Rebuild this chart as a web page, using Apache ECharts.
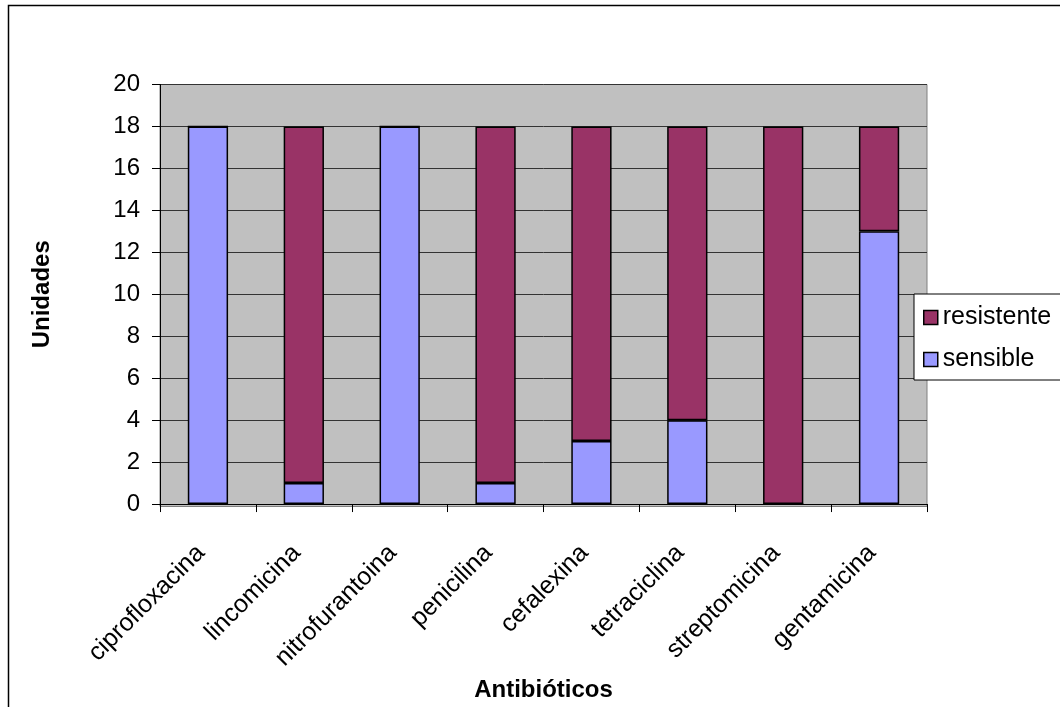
<!DOCTYPE html>
<html>
<head>
<meta charset="utf-8">
<script src="https://cdn.jsdelivr.net/npm/echarts@6/dist/echarts.min.js"></script>
<style>html,body{margin:0;padding:0;background:#fff}#c{width:1060px;height:707px}</style>
</head>
<body>
<div id="c"></div>
<script>
const categories = ['ciprofloxacina','lincomicina','nitrofurantoina','penicilina','cefalexina','tetraciclina','streptomicina','gentamicina'];
const sensible = [18, 1, 18, 1, 3, 4, 0, 13];
const resistente = [0, 17, 0, 17, 15, 14, 18, 5];
const yTicks = [0, 2, 4, 6, 8, 10, 12, 14, 16, 18, 20];

const FONT = 'Liberation Sans, Arial, sans-serif';
const chart = echarts.init(document.getElementById('c'), null, {renderer: 'canvas'});
chart.setOption({
  animation: false,
  backgroundColor: '#ffffff',
  graphic: [
    {type: 'rect', shape: {x: 8.5, y: 5.5, width: 1200, height: 1000}, style: {fill: 'none', stroke: '#000', lineWidth: 1.5}, z: -10},
    {type: 'rect', shape: {x: 160, y: 84.5, width: 767, height: 422}, style: {fill: '#c0c0c0', stroke: '#808080', lineWidth: 1}, z: -5, silent: true}
  ],
  grid: {left: 160, right: 133, top: 84.5, bottom: 200, containLabel: false},
  legend: {
    orient: 'vertical',
    left: 914, top: 294,
    width: 200,
    padding: [11, 40, 8, 9],
    itemGap: 17,
    itemWidth: 14, itemHeight: 14,
    backgroundColor: '#fff',
    borderColor: '#000', borderWidth: 1,
    borderRadius: 0,
    icon: 'rect',
    textStyle: {fontFamily: FONT, fontSize: 25, lineHeight: 24, color: '#000', padding: [0, 0, 0, 0]},
    data: [
      {name: 'resistente', itemStyle: {borderColor: '#000', borderWidth: 1.5}},
      {name: 'sensible', itemStyle: {borderColor: '#000', borderWidth: 1.5}}
    ]
  },
  xAxis: {
    type: 'category',
    data: categories,
    name: 'Antibióticos',
    nameLocation: 'middle',
    nameGap: 170,
    nameTextStyle: {fontFamily: FONT, fontSize: 24, fontWeight: 'bold', color: '#000'},
    axisLine: {lineStyle: {color: '#000', width: 1}},
    axisTick: {show: true, length: 8, inside: false, alignWithLabel: false, lineStyle: {color: '#000'}},
    axisLabel: {rotate: 45, margin: 38, padding: [0, 10, 0, 0], fontFamily: FONT, fontSize: 25, color: '#000', interval: 0},
    splitLine: {show: false}
  },
  yAxis: {
    type: 'value',
    min: 0, max: 20, interval: 2,
    name: 'Unidades',
    nameLocation: 'middle',
    nameGap: 106,
    nameRotate: 90,
    nameTextStyle: {fontFamily: FONT, fontSize: 24, fontWeight: 'bold', color: '#000'},
    axisLine: {show: true, lineStyle: {color: '#000', width: 1}},
    axisTick: {show: true, length: 8, inside: false, lineStyle: {color: '#000'}},
    axisLabel: {margin: 20, fontFamily: FONT, fontSize: 24, color: '#000',
      formatter: v => yTicks.includes(v) ? String(v) : ''},
    splitLine: {show: true, lineStyle: {color: '#333', width: 1}}
  },
  series: [
    {name: 'sensible', type: 'bar', stack: 'a', data: sensible, barCategoryGap: '58%',
      itemStyle: {color: '#9999ff', borderColor: '#000', borderWidth: 1.5}},
    {name: 'resistente', type: 'bar', stack: 'a', data: resistente, barCategoryGap: '58%',
      itemStyle: {color: '#993366', borderColor: '#000', borderWidth: 1.5}}
  ]
});
</script>
</body>
</html>
